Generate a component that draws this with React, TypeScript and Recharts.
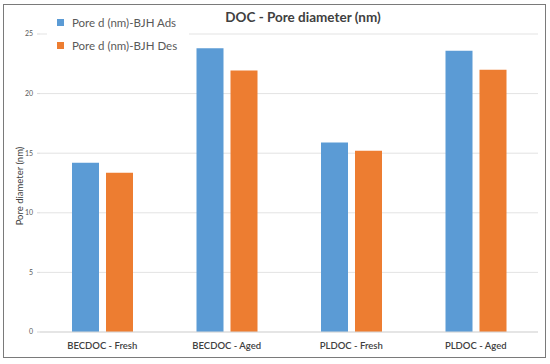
import { Bar, BarChart, CartesianGrid, XAxis, YAxis } from "recharts";

const categories = ["BECDOC - Fresh", "BECDOC - Aged", "PLDOC - Fresh", "PLDOC - Aged"];
const adsValues = [14.2, 23.8, 15.9, 23.6];
const desValues = [13.37, 21.93, 15.2, 22.0];
const yTicks = [0, 5, 10, 15, 20, 25];

const data = categories.map((name, i) => ({
  name,
  ads: adsValues[i],
  des: desValues[i],
}));

const FONT = "Lato, 'Open Sans', sans-serif";

const legendItems = [
  { label: "Pore d (nm)-BJH Ads", color: "#5b9bd5" },
  { label: "Pore d (nm)-BJH Des", color: "#ed7d31" },
];

export default function App() {
  return (
    <div
      style={{
        position: "absolute",
        left: 0,
        top: 0,
        width: 550,
        height: 364,
        background: "#fff",
        fontFamily: FONT,
      }}
    >
      <div
        style={{
          position: "absolute",
          left: 3,
          top: 4,
          width: 543,
          height: 354,
          border: "1px solid #7a7a7a",
          boxSizing: "border-box",
        }}
      />
      <BarChart
        width={550}
        height={364}
        data={data}
        margin={{ top: 34, right: 12, bottom: 2, left: 16 }}
        barSize={27}
        barGap={7}
        style={{ position: "absolute", left: 0, top: 0 }}
      >
        <CartesianGrid vertical={false} stroke="#e3e3e3" />
        <XAxis
          dataKey="name"
          height={30}
          axisLine={{ stroke: "#d9d9d9" }}
          tickLine={false}
          tickMargin={4}
          tick={{ fontSize: 9.5, fill: "#404040", fontWeight: 600, fontFamily: FONT }}
        />
        <YAxis
          width={24}
          domain={[0, 25]}
          ticks={yTicks}
          axisLine={false}
          tickLine={{ stroke: "#d9d9d9" }}
          tickSize={3}
          tickMargin={4}
          tick={{ fontSize: 7, fill: "#595959", fontFamily: FONT }}
          label={{
            value: "Pore diameter (nm)",
            angle: -90,
            position: "insideLeft",
            offset: 4,
            dy: 3,
            style: { textAnchor: "middle", fontSize: 9.5, fill: "#404040", fontFamily: FONT },
          }}
        />
        <Bar dataKey="ads" name="Pore d (nm)-BJH Ads" fill="#5b9bd5" isAnimationActive={false} />
        <Bar dataKey="des" name="Pore d (nm)-BJH Des" fill="#ed7d31" isAnimationActive={false} />
      </BarChart>
      {/* legend sits over the top-left of the plot with a white box, like the original */}
      <div
        style={{
          position: "absolute",
          left: 47,
          top: 11,
          width: 132,
          padding: "0 0 0 10px",
          background: "#fff",
          fontSize: 11.5,
          color: "#595959",
        }}
      >
        {legendItems.map((it) => (
          <div key={it.label} style={{ display: "flex", alignItems: "center", height: 23 }}>
            <span style={{ width: 7, height: 7, background: it.color, marginRight: 8 }} />
            <span>{it.label}</span>
          </div>
        ))}
      </div>
      <div
        style={{
          position: "absolute",
          left: 190,
          width: 226,
          top: 9,
          textAlign: "center",
          fontSize: 13.5,
          fontWeight: 700,
          color: "#404040",
        }}
      >
        DOC - Pore diameter (nm)
      </div>
    </div>
  );
}
